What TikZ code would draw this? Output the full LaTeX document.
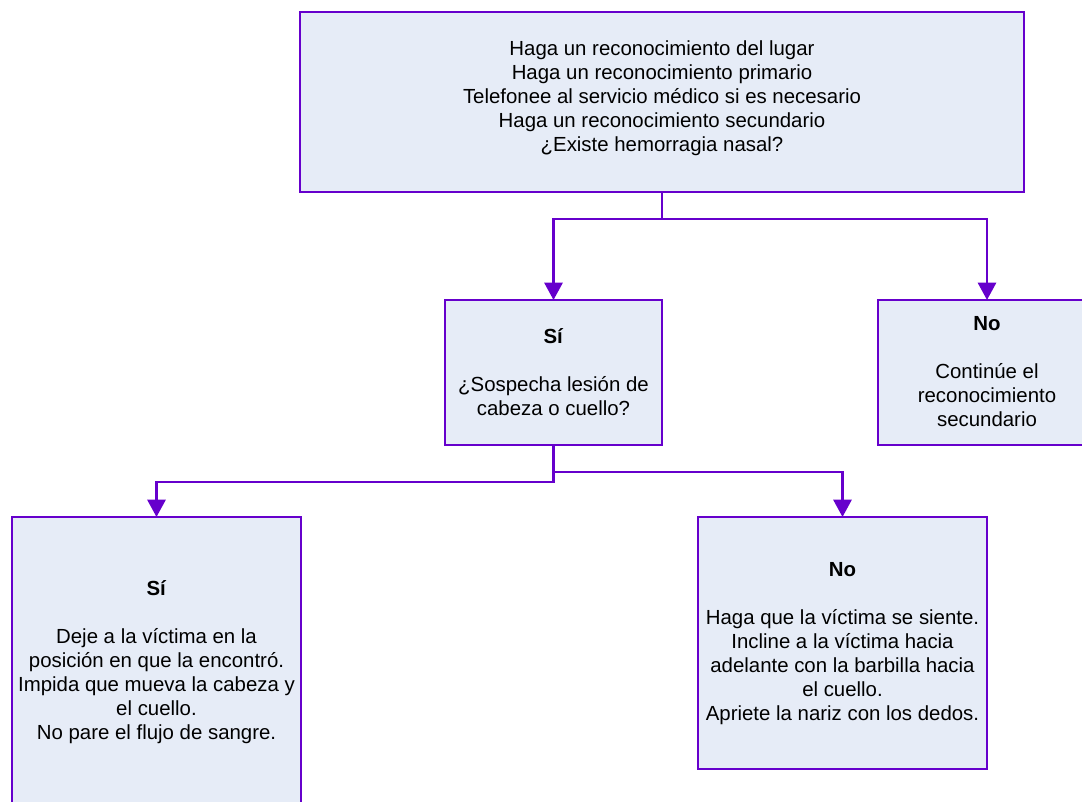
\documentclass[tikz,border=0pt]{standalone}
\usepackage{fontspec}
\setmainfont{Liberation Sans}
\usetikzlibrary{arrows.meta,fit}
\definecolor{edgepurple}{RGB}{102,0,204}
\definecolor{boxfill}{RGB}{230,236,247}
\begin{document}
\begin{tikzpicture}[x=0.75pt,y=-0.75pt,
  box/.style={draw=edgepurple, fill=boxfill, line width=2.2pt, inner sep=0pt, outer sep=0pt},
  txt/.style={align=center, font=\fontsize{15.3}{18}\selectfont, inner sep=0pt, text=black},
  conn/.style={draw=edgepurple, line width=2.2pt, -{Triangle[width=13.5pt,length=13pt]}}]
\useasboundingbox (0,0) rectangle (1082,801);
\fill[white] (0,0) rectangle (1082,801);
\clip (0,0) rectangle (1082,801);

\node[box, fit={(300,12) (1024,192)}] (top) {};
\node[box, fit={(445,300) (662,445)}] (si) {};
\node[box, fit={(878,300) (1096,445)}] (no) {};
\node[box, fit={(12,517) (301,830)}] (sisi) {};
\node[box, fit={(698,517) (987,769)}] (sino) {};

\node[txt] (toptxt) at (662,98) {Haga un reconocimiento del lugar\\Haga un reconocimiento primario\\Telefonee al servicio médico si es necesario\\Haga un reconocimiento secundario\\¿Existe hemorragia nasal?};
\node[txt] (sitxt) at (553.5,372) {\textbf{Sí}\\[18pt]¿Sospecha lesión de\\cabeza o cuello?};
\node[txt] (notxt) at (987,372) {\textbf{No}\\[18pt]Continúe el\\reconocimiento\\secundario};
\node[txt] (sisitxt) at (156.5,662) {\textbf{Sí}\\[18pt]Deje a la víctima en la\\posición en que la encontró.\\Impida que mueva la cabeza y\\el cuello.\\No pare el flujo de sangre.};
\node[txt] (sinotxt) at (842.5,644) {\textbf{No}\\[18pt]Haga que la víctima se siente.\\Incline a la víctima hacia\\adelante con la barbilla hacia\\el cuello.\\Apriete la nariz con los dedos.};

\draw[conn] (top.south) -- ++(0,27) -| (si.north);
\draw[conn] (top.south) -- ++(0,27) -| (no.north);
\draw[conn] (si.south) -- ++(0,37) -| (sisi.north);
\draw[conn] (si.south) -- ++(0,27) -| (sino.north);
\end{tikzpicture}
\end{document}
